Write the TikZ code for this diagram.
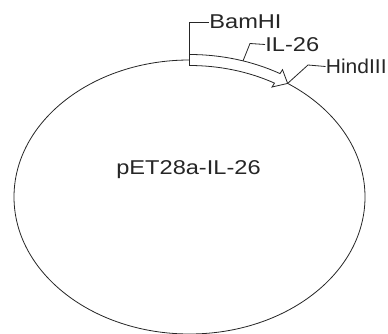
\documentclass[tikz,border=0pt]{standalone}
\usepackage{fontspec}
\setmainfont{Liberation Sans}
\newcommand{\wtxt}[1]{\scalebox{1.18}[1]{#1}}
\begin{document}
\begin{tikzpicture}[x=1pt,y=1pt,line width=0.8pt,
  ln/.style={draw=black!85, line width=0.8pt},
  lbl/.style={font=\fontsize{20}{24}\selectfont, inner sep=0pt, text=black!85}]
\useasboundingbox (0,0) rectangle (388,333);
\fill[white] (0,0) rectangle (388,333);
\coordinate (c) at (189.5,136);
% plasmid backbone
\draw[ln] (c) ellipse [x radius=175.5pt, y radius=137pt];
% IL-26 insert arrow
\coordinate (bamO) at ([shift={(c)}]90:181 and 142.5);
\coordinate (bam) at ([shift={(c)}]90:170 and 131.5);
\coordinate (tip) at ([shift={(c)}]56:175.5 and 137);
\coordinate (il) at ([shift={(c)}]72.8:181 and 142.5);
\filldraw[ln, fill=white] (bamO)
  arc[start angle=90, end angle=60, x radius=181pt, y radius=142.5pt]
  -- ([shift={(c)}]60:186 and 147)
  -- (tip)
  -- ([shift={(c)}]60:165 and 127)
  -- ([shift={(c)}]60:170 and 131.5)
  arc[start angle=60, end angle=90, x radius=170pt, y radius=131.5pt]
  -- cycle;
% labels
\node[lbl, anchor=west] (BamHI) at (209,311) {\wtxt{BamHI}};
\node[lbl, anchor=west] (IL) at (265,288.5) {\wtxt{IL-26}};
\node[lbl, anchor=west] (Hind) at (325.5,266.5) {\scalebox{1.05}[1]{HindIII}};
\node[lbl, anchor=base] (name) at (188.5,159) {\wtxt{pET28a-IL-26}};
% leaders
\coordinate (ilk) at (250,289.5);
\coordinate (hk) at (308,268);
\draw[ln] (bam) |- (BamHI.west);
\draw[ln] (il) -- (ilk) -- (IL.west);
\draw[ln] (tip) -- (hk) -- (Hind.west);
\end{tikzpicture}
\end{document}
